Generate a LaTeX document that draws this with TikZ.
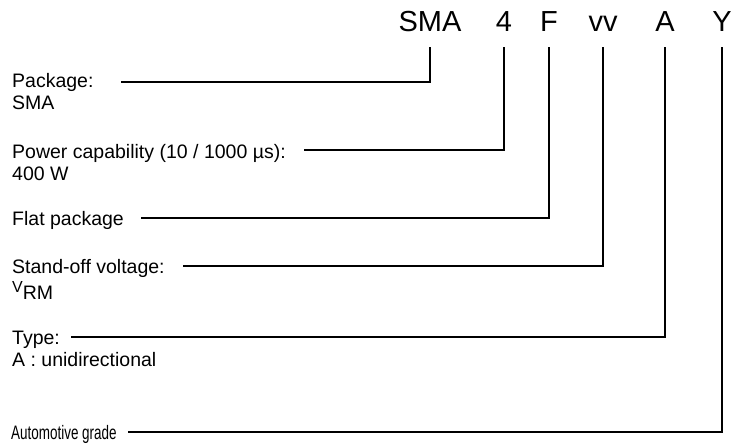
\documentclass[tikz,border=0pt]{standalone}
\usepackage{fontspec}
\usepackage{graphicx}
\setmainfont{Liberation Sans}
\begin{document}
\begin{tikzpicture}[x=1pt,y=-1pt,
  head/.style={anchor=base,inner sep=0pt,font=\fontsize{29}{29}\selectfont},
  lbl/.style={anchor=base west,inner sep=0pt,align=left,font=\fontsize{19.5}{22}\selectfont},
  conn/.style={line width=1.4pt,line cap=rect}]
\useasboundingbox (0,0) rectangle (739,444);
% header
\node[head] (hS) at (430,32) {SMA};
\node[head] (h4) at (504,32) {4};
\node[head] (hF) at (549,32) {F};
\node[head] (hv) at (603,32) {vv};
\node[head] (hA) at (665,32) {A};
\node[head] (hY) at (722,32) {Y};
% labels (anchored at the baseline of their last line)
\node[lbl] (lP) at (12,110) {Package:\\SMA};
\node[lbl] (lW) at (12,180) {Power capability (10 / 1000 µs):\\400 W};
\node[lbl] (lF) at (12,225) {Flat package};
\node[lbl] (lV) at (12,295) {Stand-off voltage:\\\raisebox{3pt}{\fontsize{16}{16}\selectfont V}\raisebox{-4pt}{RM}};
\node[lbl] (lT) at (12,366) {Type:\\A : unidirectional};
\node[lbl] (lG) at (11,439) {\scalebox{0.69}[1]{Automotive grade}};
% connector start points
\coordinate (sP) at (122,82);
\coordinate (sW) at (305,150);
\coordinate (sF) at (142,218);
\coordinate (sV) at (184,266);
\coordinate (sT) at (72,337);
\coordinate (sG) at (129,432);
% connectors
\draw[conn] (sP) -| ([yshift=-16pt]hS.base);
\draw[conn] (sW) -| ([yshift=-16pt]h4.base);
\draw[conn] (sF) -| ([yshift=-16pt]hF.base);
\draw[conn] (sV) -| ([yshift=-16pt]hv.base);
\draw[conn] (sT) -| ([yshift=-16pt]hA.base);
\draw[conn] (sG) -| ([yshift=-16pt]hY.base);
\end{tikzpicture}
\end{document}
